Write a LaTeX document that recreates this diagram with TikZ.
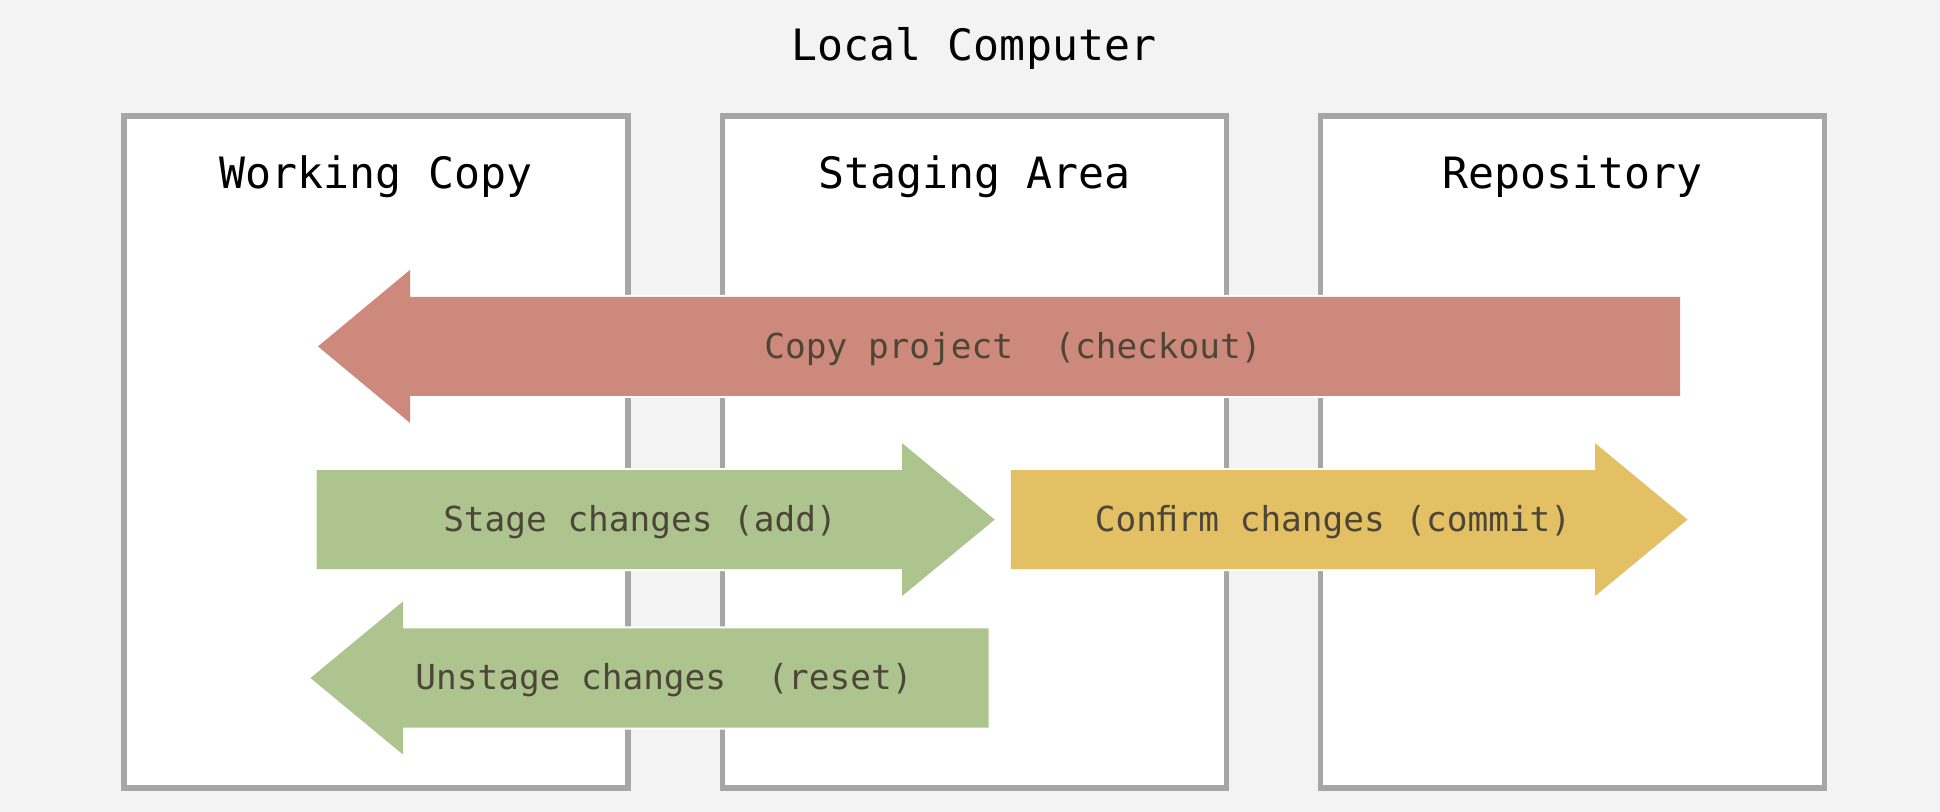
\documentclass[tikz,border=0pt]{standalone}
\usepackage{fontspec}
\setmonofont{DejaVu Sans Mono}
\usepackage{xcolor}
\usepackage{tikz}
\usetikzlibrary{positioning,calc}
\definecolor{lcback}{HTML}{F3F3F3}
\definecolor{lcline}{HTML}{A6A6A6}
\definecolor{lcred}{HTML}{CD897B}
\definecolor{lcgreen}{HTML}{ADC48E}
\definecolor{lcyellow}{HTML}{E2C063}
\definecolor{lctext}{HTML}{4D4538}

\begin{document}
\begin{tikzpicture}[x=0.5pt,y=-0.5pt,
  area/.style={draw=lcline,fill=white,line width=2.6pt,minimum width=252pt,minimum height=336pt,inner sep=0pt},
  areatitle/.style={font=\ttfamily\fontsize{21.6}{26}\selectfont,inner sep=0pt},
  fatarrow/.style={preaction={draw=white,line width=2pt},line join=miter},
  flowlabel/.style={font=\ttfamily\fontsize{17.2}{21}\selectfont,text=lctext,inner sep=0pt}
]
\useasboundingbox[fill=lcback] (0,0) rectangle (1940,812);
\node[areatitle] (lc) at (974,48.5) {Local Computer};
% the three areas
\node[area] (wc) at (376,452) {};
\node[area,right=44.6pt of wc] (sa) {};
\node[area,right=44.6pt of sa] (repo) {};
\node[areatitle] (wct) at (wc.center |- 0,176.5) {Working Copy};
\node[areatitle] (sat) at (sa.center |- 0,176.5) {Staging Area};
\node[areatitle] (repot) at (repo.center |- 0,176.5) {Repository};
% flows between the areas
\fill[fatarrow,lcred] (318,346.4) -- (410,269.9) -- (410,296.9) -- (1680,296.9)
  -- (1680,395.9) -- (410,395.9) -- (410,422.9) -- cycle;
\node[flowlabel] (co) at (1013,349) {Copy project\ \ (checkout)};
\fill[fatarrow,lcgreen] (316.7,470.1) -- (902,470.1) -- (902,443.1) -- (994.7,519.6)
  -- (902,596.1) -- (902,569.1) -- (316.7,569.1) -- cycle;
\node[flowlabel] (add) at (640,522) {Stage changes (add)};
\fill[fatarrow,lcyellow] (1010.8,470.1) -- (1595,470.1) -- (1595,443.1) -- (1687.5,519.6)
  -- (1595,596.1) -- (1595,569.1) -- (1010.8,569.1) -- cycle;
\node[flowlabel] (cm) at (1333,522) {Conﬁrm changes (commit)};
\fill[fatarrow,lcgreen] (310.5,678) -- (403,601.5) -- (403,628.5) -- (988.5,628.5)
  -- (988.5,727.5) -- (403,727.5) -- (403,754.5) -- cycle;
\node[flowlabel] (rs) at (664,680.5) {Unstage changes\ \ (reset)};
\end{tikzpicture}
\end{document}
